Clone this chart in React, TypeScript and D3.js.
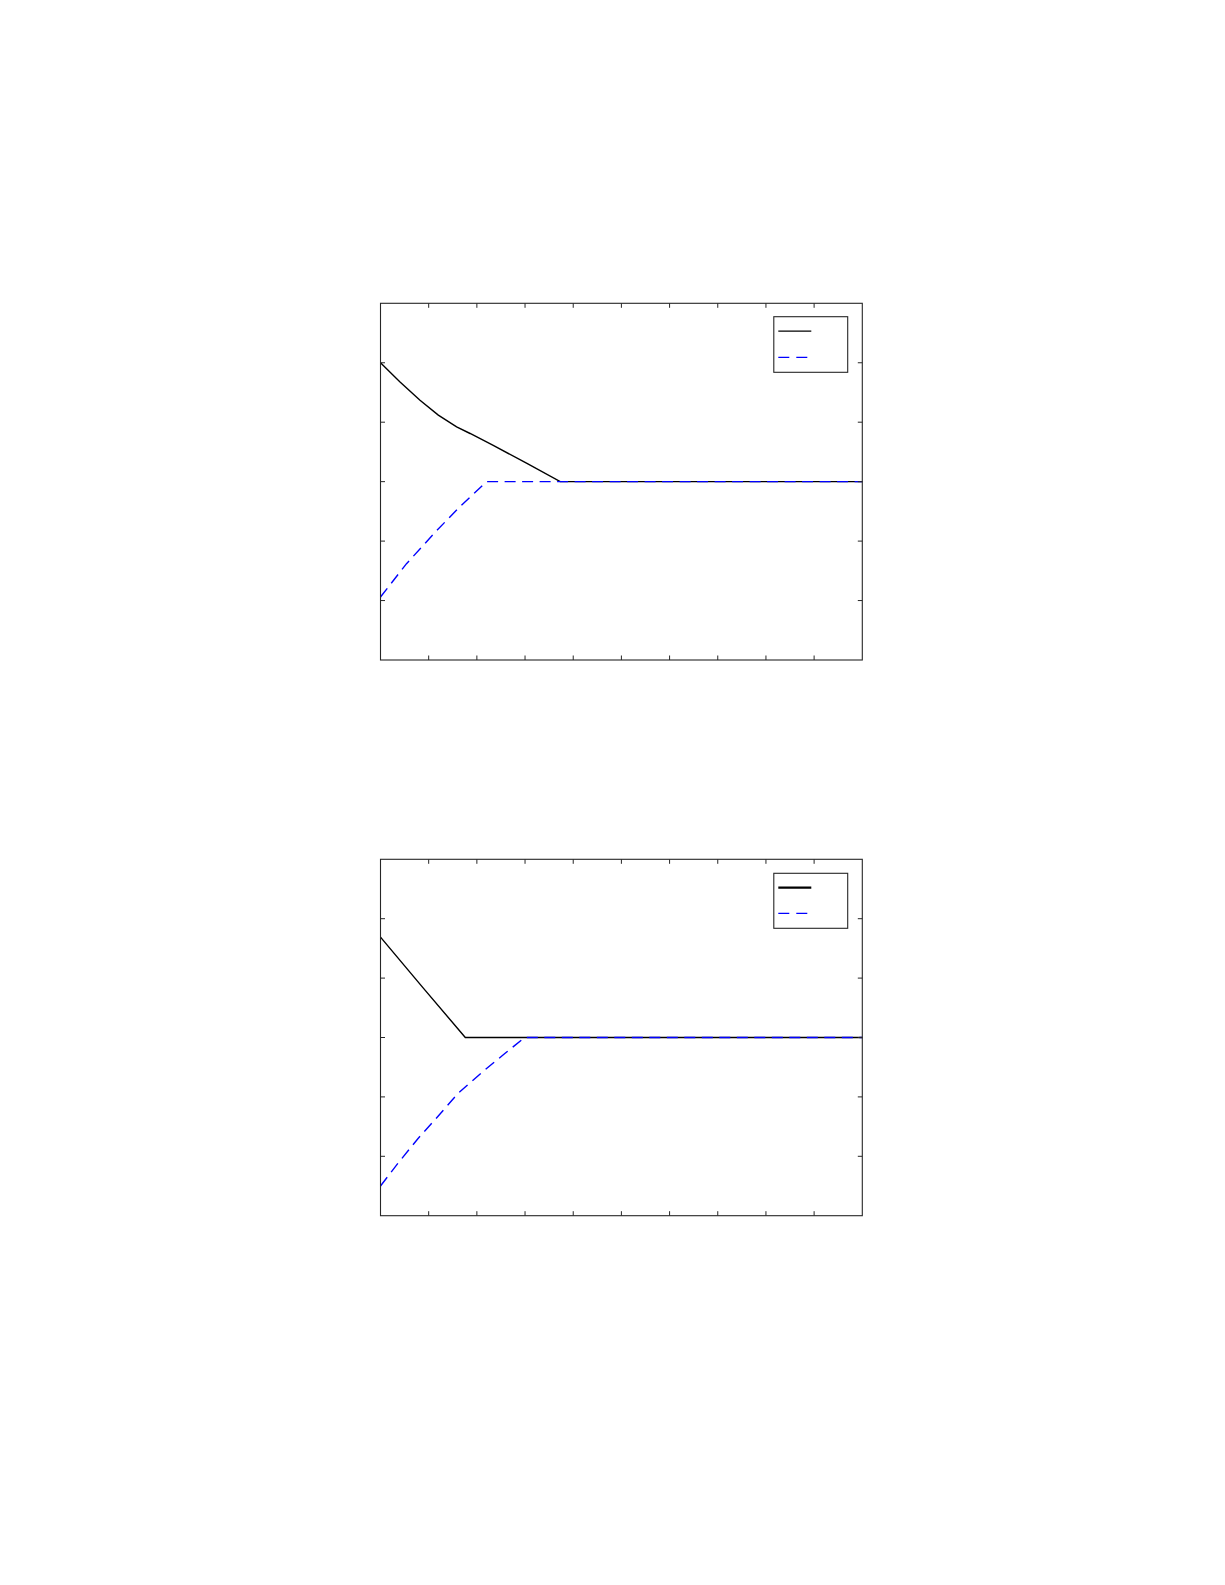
import {useEffect, useRef} from 'react';
import * as d3 from 'd3';

// axis ticks (no labels in the source figure)
const xTicks = [0, 1, 2, 3, 4, 5, 6, 7, 8, 9, 10];
const yTicks = [0, 1, 2, 3, 4, 5, 6];

// top panel
const topSolidX = [0, 0.4, 0.82, 1.2, 1.58, 1.86, 2.34, 3.03, 3.73, 10];
const topSolidY = [5.0, 4.68, 4.37, 4.12, 3.92, 3.81, 3.61, 3.31, 3.0, 3.0];
const topDashX = [0, 0.54, 1.17, 1.65, 2.2, 10];
const topDashY = [1.06, 1.62, 2.18, 2.58, 3.0, 3.0];

// bottom panel
const botSolidX = [0, 0.88, 1.76, 10];
const botSolidY = [4.69, 3.84, 3.0, 3.0];
const botDashX = [0, 0.36, 0.78, 1.19, 1.61, 2.16, 2.58, 2.99, 10];
const botDashY = [0.5, 0.88, 1.3, 1.67, 2.06, 2.45, 2.73, 3.0, 3.0];

const zip = (xs: number[], ys: number[]) => xs.map((x, i) => ({x, y: ys[i]}));

const App = () => {
  const ref = useRef<SVGSVGElement>(null);

  useEffect(() => {
    const svg = d3.select(ref.current);
    svg.selectAll('*').remove();

    const panels = [
      {top: 303.3, bottom: 660, solid: zip(topSolidX, topSolidY), dash: zip(topDashX, topDashY), legTop: 316.7, legBottom: 372.3, legSolidW: 1.3},
      {top: 859.3, bottom: 1215.7, solid: zip(botSolidX, botSolidY), dash: zip(botDashX, botDashY), legTop: 873.3, legBottom: 928.3, legSolidW: 2.2},
    ];

    const left = 380.5;
    const right = 862.3;
    const tickLen = 4.5;
    const axisColor = '#262626';

    panels.forEach((p) => {
      const x = d3.scaleLinear().domain([0, 10]).range([left, right]);
      const y = d3.scaleLinear().domain([0, 6]).range([p.bottom, p.top]);
      const g = svg.append('g');

      const line = d3
        .line<{x: number; y: number}>()
        .x((d) => x(d.x))
        .y((d) => y(d.y))
        .curve(d3.curveLinear);

      g.append('path')
        .datum(p.solid)
        .attr('fill', 'none')
        .attr('stroke', '#000')
        .attr('stroke-width', 1.4)
        .attr('d', line);

      g.append('path')
        .datum(p.dash)
        .attr('fill', 'none')
        .attr('stroke', '#0000ff')
        .attr('stroke-width', 1.4)
        .attr('stroke-dasharray', '11,6.5')
        .attr('d', line);

      // ticks, inward on all four sides
      xTicks.slice(1, -1).forEach((t) => {
        g.append('line').attr('x1', x(t)).attr('x2', x(t)).attr('y1', p.bottom).attr('y2', p.bottom - tickLen)
          .attr('stroke', axisColor).attr('stroke-width', 1);
        g.append('line').attr('x1', x(t)).attr('x2', x(t)).attr('y1', p.top).attr('y2', p.top + tickLen)
          .attr('stroke', axisColor).attr('stroke-width', 1);
      });
      yTicks.slice(1, -1).forEach((t) => {
        g.append('line').attr('x1', left).attr('x2', left + tickLen).attr('y1', y(t)).attr('y2', y(t))
          .attr('stroke', axisColor).attr('stroke-width', 1);
        g.append('line').attr('x1', right).attr('x2', right - tickLen).attr('y1', y(t)).attr('y2', y(t))
          .attr('stroke', axisColor).attr('stroke-width', 1);
      });

      g.append('rect')
        .attr('x', left)
        .attr('y', p.top)
        .attr('width', right - left)
        .attr('height', p.bottom - p.top)
        .attr('fill', 'none')
        .attr('stroke', axisColor)
        .attr('stroke-width', 1.1);

      // legend, no text
      const lx = 773.8;
      const lw = 847.7 - lx;
      g.append('rect')
        .attr('x', lx)
        .attr('y', p.legTop)
        .attr('width', lw)
        .attr('height', p.legBottom - p.legTop)
        .attr('fill', '#fff')
        .attr('stroke', axisColor)
        .attr('stroke-width', 1.1);
      const row1 = p.legTop + (p.legBottom - p.legTop) * 0.26;
      const row2 = p.legTop + (p.legBottom - p.legTop) * 0.73;
      g.append('line').attr('x1', lx + 4.5).attr('x2', lx + 37.5).attr('y1', row1).attr('y2', row1)
        .attr('stroke', '#000').attr('stroke-width', p.legSolidW);
      g.append('line').attr('x1', lx + 4.5).attr('x2', lx + 34).attr('y1', row2).attr('y2', row2)
        .attr('stroke', '#0000ff').attr('stroke-width', 1.3).attr('stroke-dasharray', '11,7');
    });
  }, []);

  return (
    <svg
      ref={ref}
      width={1225}
      height={1585}
      style={{position: 'absolute', left: 0, top: 0, background: '#fff'}}
    />
  );
};

export default App;
